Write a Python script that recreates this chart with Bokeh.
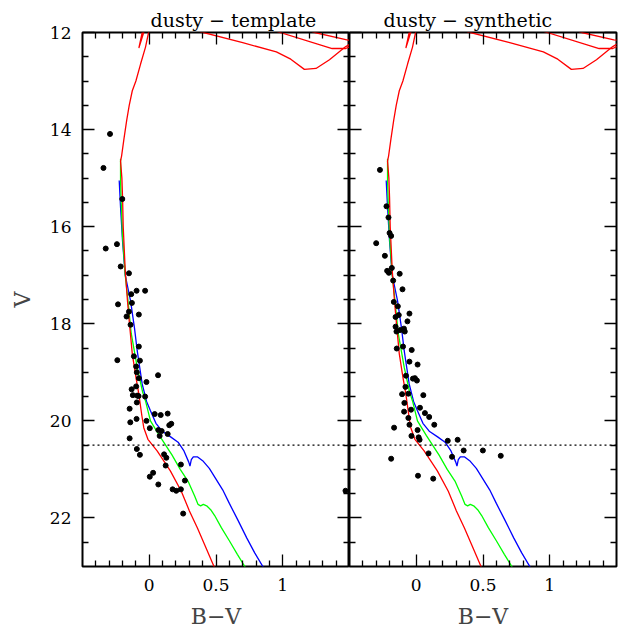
from bokeh.plotting import figure
from bokeh.layouts import row
from bokeh.models import (Range1d, FixedTicker, LinearAxis, Span, NumeralTickFormatter,
                          CustomLabelingPolicy)
from bokeh.embed import file_html
from bokeh.resources import INLINE

# ---------------- data ----------------
titles = ["dusty \u2212 template", "dusty \u2212 synthetic"]
x_label = "B\u2212V"
y_label = "V"
x_major = [0, 0.5, 1]
y_major = [12, 14, 16, 18, 20, 22]
cut_v = 20.5

# observed stars, left panel (template)
left_bv = [-0.294, -0.343, -0.202, -0.326, -0.242, -0.214, -0.152, -0.135, -0.095, -0.031,
           -0.130, -0.234, -0.152, -0.078, -0.170, -0.140, -0.078, -0.239, -0.115, -0.070,
           -0.098, -0.093, 0.066, -0.078, -0.021, -0.098, -0.132, -0.123, -0.090, -0.080,
           -0.031, -0.093, -0.147, 0.041, 0.086, 0.138, -0.095, -0.142, -0.021, 0.165,
           0.150, 0.004, 0.068, 0.093, 0.138, 0.078, -0.147, -0.093, -0.070, 0.111,
           0.128, 0.123, 0.237, 0.029, 0.004, 0.267, 0.068, 0.175, 0.202, 0.237,
           0.254, 1.470]
left_v = [14.09, 14.79, 15.43, 16.45, 16.36, 16.82, 16.96, 17.39, 17.32, 17.32,
          17.57, 17.60, 17.75, 17.81, 17.85, 18.02, 18.47, 18.75, 18.67, 18.76,
          18.88, 19.00, 19.06, 19.12, 19.20, 19.29, 19.35, 19.47, 19.48, 19.49,
          19.50, 19.62, 19.75, 19.86, 19.88, 19.85, 19.96, 20.03, 20.00, 20.06,
          20.09, 20.15, 20.19, 20.21, 20.27, 20.31, 20.36, 20.58, 20.70, 20.69,
          20.76, 20.92, 20.90, 21.07, 21.15, 21.23, 21.31, 21.41, 21.44, 21.41,
          21.91, 21.44]

# observed stars, right panel (synthetic)
right_bv = [-0.272, -0.223, -0.208, -0.200, -0.188, -0.300, -0.235, -0.183, -0.218, -0.205,
            -0.124, -0.173, -0.103, -0.168, -0.138, -0.051, -0.131, -0.155, -0.066, -0.155,
            -0.092, -0.121, -0.148, -0.086, -0.099, -0.146, -0.034, -0.051, 0.010, -0.077,
            -0.025, -0.010, 0.005, -0.081, -0.059, -0.106, 0.053, -0.089, 0.028, -0.039,
            -0.091, 0.065, -0.059, 0.097, -0.051, 0.135, -0.166, 0.010, -0.036, 0.018,
            0.025, 0.236, 0.310, 0.355, 0.499, 0.092, 0.268, 0.633, -0.188, 0.013,
            0.127]
right_v = [14.83, 15.58, 15.81, 16.13, 16.19, 16.34, 16.60, 16.85, 16.91, 16.95,
           16.97, 17.11, 17.29, 17.55, 17.64, 17.79, 17.82, 17.86, 17.95, 18.06,
           18.10, 18.13, 18.16, 18.16, 18.47, 18.51, 18.54, 18.78, 18.84, 19.07,
           19.13, 19.12, 19.17, 19.30, 19.44, 19.45, 19.47, 19.63, 19.73, 19.77,
           19.81, 19.84, 19.94, 19.92, 20.08, 20.08, 20.14, 20.19, 20.31, 20.34,
           20.39, 20.41, 20.39, 20.61, 20.61, 20.67, 20.74, 20.72, 20.78, 21.13,
           21.19]

# isochrones
red_bv = [0.010, -0.005, -0.028, -0.065, -0.100, -0.127, -0.150, -0.169, -0.190, -0.207,
          -0.215, -0.205, -0.200, -0.195, -0.180, -0.163, -0.150, -0.127, -0.100, -0.078,
          -0.055, -0.041, -0.010, 0.059, 0.158, 0.240, 0.300, 0.360, 0.415, 0.485, 0.505]
red_v = [11.85, 12.00, 12.30, 12.65, 13.00, 13.20, 13.50, 13.81, 14.20, 14.54,
         14.65, 15.00, 15.40, 16.00, 16.90, 17.53, 17.94, 18.62, 19.10, 19.45,
         19.90, 20.14, 20.38, 20.62, 21.03, 21.45, 21.85, 22.20, 22.55, 23.00, 23.10]

red_hook_bv = [-0.045, -0.078, -0.030]
red_hook_v = [11.90, 12.32, 11.90]

red_giant_a_bv = [0.380, 0.406, 0.700, 0.952, 1.060, 1.162, 1.249, 1.350, 1.472, 1.540]
red_giant_a_v = [11.98, 12.00, 12.21, 12.40, 12.55, 12.76, 12.74, 12.56, 12.29, 12.18]
red_giant_b_bv = [0.960, 0.980, 1.370, 1.472, 1.540]
red_giant_b_v = [11.98, 12.00, 12.33, 12.33, 12.24]
red_giant_c_bv = [1.220, 1.240, 1.480, 1.540]
red_giant_c_v = [11.98, 12.00, 12.15, 12.17]

green_bv = [-0.215, -0.215, -0.210, -0.200, -0.180, -0.160, -0.135, -0.090, -0.050, -0.028,
            0.009, 0.075, 0.170, 0.232, 0.290, 0.340, 0.365, 0.385, 0.405, 0.430,
            0.460, 0.490, 0.540, 0.600, 0.660, 0.720, 0.740]
green_v = [14.60, 15.05, 15.50, 16.20, 17.00, 17.50, 18.20, 18.90, 19.40, 19.59,
           20.00, 20.30, 20.70, 21.00, 21.24, 21.55, 21.72, 21.75, 21.72, 21.75,
           21.83, 21.95, 22.20, 22.47, 22.75, 23.02, 23.10]

blue_bv = [-0.225, -0.215, -0.200, -0.180, -0.140, -0.110, -0.090, -0.053, -0.020, 0.009,
           0.050, 0.100, 0.160, 0.216, 0.260, 0.296, 0.305, 0.315, 0.330, 0.360,
           0.400, 0.450, 0.500, 0.550, 0.600, 0.665, 0.730, 0.790, 0.855, 0.870]
blue_v = [15.05, 15.60, 16.30, 17.00, 17.53, 18.10, 18.56, 19.24, 19.60, 19.79,
          20.05, 20.22, 20.33, 20.44, 20.62, 20.85, 20.93, 20.80, 20.74, 20.74,
          20.82, 20.98, 21.20, 21.42, 21.70, 22.05, 22.41, 22.72, 23.02, 23.10]

# ---------------- styling ----------------
FONT = "DejaVu Serif"
x_minor = [round(-0.4 + 0.1 * i, 2) for i in range(19)]
x_minor = [t for t in x_minor if t not in x_major]
y_minor = [12.5 + 0.5 * i for i in range(21)]
y_minor = [t for t in y_minor if t not in y_major]

HIDE_CODE = """
const all = [...indices];
for (const i of all) { indices.unset(i) }
return indices
"""


def style_axis(ax, major, minor, labels):
    ax.ticker = FixedTicker(ticks=major, minor_ticks=minor)
    ax.major_tick_in = 12
    ax.major_tick_out = 0
    ax.minor_tick_in = 6
    ax.minor_tick_out = 0
    ax.major_tick_line_width = 1.3
    ax.minor_tick_line_width = 1.3
    ax.major_tick_line_color = "black"
    ax.minor_tick_line_color = "black"
    ax.axis_line_color = None
    if labels:
        ax.major_label_text_font = FONT
        ax.major_label_text_font_size = "17px"
        ax.major_label_text_color = "black"
    else:
        ax.major_label_text_font_size = "0px"
        ax.major_label_standoff = 0
        ax.major_label_policy = CustomLabelingPolicy(code=HIDE_CODE)


def make_panel(title, title_offset, bv, v, first):
    p = figure(frame_width=267, frame_height=534,
               x_range=Range1d(-0.5, 1.5), y_range=Range1d(23, 12),
               output_backend="svg", toolbar_location=None,
               min_border_left=82 if first else 0,
               min_border_right=0 if first else 8,
               min_border_top=32, min_border_bottom=61,
               x_axis_location="below", y_axis_location="left")
    p.grid.grid_line_color = None
    p.outline_line_color = "black"
    p.outline_line_width = 2
    p.background_fill_color = "white"
    p.border_fill_color = "white"

    p.title.text = title
    p.title.align = "left"
    p.title.offset = title_offset
    p.title.text_font = FONT
    p.title.text_font_size = "19px"
    p.title.text_font_style = "normal"
    p.title.text_color = "black"
    p.title.standoff = 4

    xb = p.xaxis[0]
    style_axis(xb, x_major, x_minor, True)
    xb.formatter = NumeralTickFormatter(format="0.[0]")
    xb.major_label_standoff = 12
    xb.axis_label = x_label
    xb.axis_label_text_font = FONT
    xb.axis_label_text_font_size = "22px"
    xb.axis_label_text_font_style = "normal"
    xb.axis_label_standoff = 10

    yl = p.yaxis[0]
    style_axis(yl, y_major, y_minor, first)
    if first:
        yl.major_label_standoff = 11
        yl.axis_label = y_label
        yl.axis_label_text_font = FONT
        yl.axis_label_text_font_size = "22px"
        yl.axis_label_text_font_style = "normal"
        yl.axis_label_standoff = 12

    xa = LinearAxis()
    style_axis(xa, x_major, x_minor, False)
    p.add_layout(xa, "above")
    yr = LinearAxis()
    style_axis(yr, y_major, y_minor, False)
    p.add_layout(yr, "right")

    p.line(blue_bv, blue_v, line_color="#0000ff", line_width=1.3)
    p.line(green_bv, green_v, line_color="#00ff00", line_width=1.3)
    p.line(red_bv, red_v, line_color="#ff0000", line_width=1.3)
    p.line(red_hook_bv, red_hook_v, line_color="#ff0000", line_width=1.3)
    p.line(red_giant_a_bv, red_giant_a_v, line_color="#ff0000", line_width=1.3)
    p.line(red_giant_b_bv, red_giant_b_v, line_color="#ff0000", line_width=1.3)
    p.line(red_giant_c_bv, red_giant_c_v, line_color="#ff0000", line_width=1.3)

    p.add_layout(Span(location=cut_v, dimension="width", line_color="black",
                      line_width=1.2, line_dash="2 3"))

    p.scatter(bv, v, size=5, fill_color="black", line_color="black")
    return p


p1 = make_panel(titles[0], 68, left_bv, left_v, True)
p2 = make_panel(titles[1], 34, right_bv, right_v, False)
layout = row(p1, p2)

open("out.html", "w").write(file_html(layout, INLINE))
